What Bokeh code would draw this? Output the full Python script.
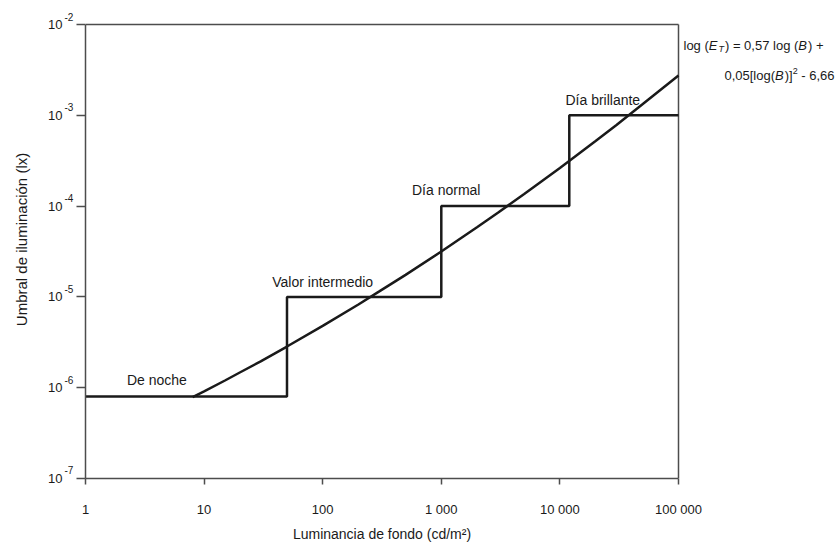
from bokeh.plotting import figure
from bokeh.models import FixedTicker, CustomJSTickFormatter, Label
from bokeh.embed import file_html
from bokeh.resources import INLINE
from bokeh.core.properties import value

# ---- data ----
curve_x = [8, 10, 15, 20, 30, 50, 100, 200, 300, 500, 1000, 2000, 3000, 5000,
           10000, 20000, 30000, 50000, 100000]
curve_y = [7.86e-7, 9.12e-7, 1.20e-6, 1.47e-6, 1.95e-6, 2.84e-6, 4.79e-6, 8.25e-6,
           1.15e-5, 1.75e-5, 3.16e-5, 5.84e-5, 8.44e-5, 1.36e-4, 2.63e-4, 5.21e-4,
           7.83e-4, 1.33e-3, 2.75e-3]

step_edges = [1, 50, 1000, 12000, 100000]
step_levels = [8e-7, 1e-5, 1e-4, 1e-3, 1e-3]

x_ticks = [1, 10, 100, 1000, 10000, 100000]
y_ticks = [1e-7, 1e-6, 1e-5, 1e-4, 1e-3, 1e-2]
y_exponents = [-7, -6, -5, -4, -3, -2]

region_names = ["De noche", "Valor intermedio", "Día normal", "Día brillante"]
region_x = [4.0, 100, 1100, 23000]
region_y = [1.22e-6, 1.46e-5, 1.5e-4, 1.46e-3]

x_title = "Luminancia de fondo (cd/m²)"
y_title = "Umbral de iluminación (lx)"

FONT = "Liberation Sans"
TXT = "#1a1a1a"
AX = "#4d4d4d"

W, H = 837, 542
LEFT, RIGHT, TOP, BOTTOM = 85, 678, 24, 478
px_per_dec_x = (RIGHT - LEFT) / 5.0
px_per_dec_y = (BOTTOM - TOP) / 5.0

# the frame reaches the right and top edges so the formula text is not clipped;
# the axes are bounded to the data box and the box is closed with two lines
p = figure(width=W, height=H, x_axis_type="log", y_axis_type="log",
           x_range=(x_ticks[0], 10 ** (5 + (W - RIGHT) / px_per_dec_x)),
           y_range=(y_ticks[0], 10 ** (-2 + TOP / px_per_dec_y)),
           output_backend="svg", toolbar_location=None,
           min_border_left=LEFT, min_border_right=0,
           min_border_top=0, min_border_bottom=H - BOTTOM)
p.grid.visible = False
p.background_fill_color = "white"
p.border_fill_color = "white"
p.outline_line_color = None

# x axis
xa = p.xaxis[0]
xa.bounds = (x_ticks[0], x_ticks[-1])
xa.ticker = FixedTicker(ticks=x_ticks, minor_ticks=[])
xa.formatter = CustomJSTickFormatter(
    code=r"return Math.round(tick).toString().replace(/\B(?=(\d{3})+(?!\d))/g, ' ');")
xa.major_tick_in = 0
xa.major_tick_out = 6
xa.minor_tick_out = 0
xa.minor_tick_in = 0
xa.axis_line_color = AX
xa.axis_line_width = 1.5
xa.major_tick_line_color = AX
xa.major_tick_line_width = 1.5
xa.major_label_text_font = FONT
xa.major_label_text_font_size = "13px"
xa.major_label_text_color = TXT
xa.major_label_standoff = 17

# y axis ("10" from the axis, exponents added beside it)
ya = p.yaxis[0]
ya.bounds = (y_ticks[0], y_ticks[-1])
ya.ticker = FixedTicker(ticks=y_ticks, minor_ticks=[])
ya.formatter = CustomJSTickFormatter(code="return '10';")
ya.major_tick_in = 0
ya.major_tick_out = 9
ya.minor_tick_out = 0
ya.minor_tick_in = 0
ya.axis_line_color = AX
ya.axis_line_width = 1.5
ya.major_tick_line_color = AX
ya.major_tick_line_width = 1.5
ya.major_label_text_font = FONT
ya.major_label_text_font_size = "13px"
ya.major_label_text_color = TXT
ya.major_label_standoff = 14
ya.axis_label = y_title
ya.axis_label_text_font = FONT
ya.axis_label_text_font_size = "15px"
ya.axis_label_text_font_style = "normal"
ya.axis_label_text_color = TXT
ya.axis_label_standoff = 15

# exponents: one multi-line label in the left panel, one line per decade
exp_text = "\n".join(str(e) for e in sorted(y_exponents, reverse=True))
p.add_layout(Label(x=x_ticks[0], y=y_ticks[-1], x_units="data", y_units="data",
                   x_offset=-21, y_offset=13, text=exp_text,
                   text_font=FONT, text_font_size="10px", text_color=TXT,
                   text_line_height=8.25,
                   text_align="left", text_baseline="top"), "left")

# close the data box (top and right sides)
p.segment(x0=[x_ticks[0], x_ticks[-1]], y0=[y_ticks[-1], y_ticks[0]],
          x1=[x_ticks[-1], x_ticks[-1]], y1=[y_ticks[-1], y_ticks[-1]],
          line_color=AX, line_width=1.5)

# x axis title (in the lower panel)
p.add_layout(Label(x=10 ** 2.5, y=y_ticks[0], x_units="data", y_units="data",
                   x_offset=0, y_offset=-55, text=x_title,
                   text_font=FONT, text_font_size="14px", text_color=TXT,
                   text_align="center", text_baseline="middle"), "below")

# data lines
p.step(step_edges, step_levels, mode="after", line_color=TXT, line_width=2.5)
p.line(curve_x, curve_y, line_color=TXT, line_width=2.5)

# region labels
p.text(x=region_x, y=region_y, text=region_names, text_align="center",
       text_baseline="middle", text_font=value(FONT), text_font_size="14px",
       text_color=TXT)

# formula annotation (pieces laid out with Arial/Liberation advance widths)
NB = "\u00a0"
adv = {'l': 222, 'o': 556, 'g': 556, ' ': 278, NB: 278, '(': 333, ')': 333, 'E': 667,
       'T': 611, '=': 584, '0': 556, ',': 278, '5': 556, '7': 556, 'B': 667,
       '+': 584, '[': 278, ']': 278, '-': 333, '6': 556, '2': 556}


def width(s, size):
    return sum(adv.get(c, 556) for c in s) * size / 1000.0


line1 = [("log (", 13, "normal", 0), ("E", 13, "italic", 0), ("T", 9, "italic", -3),
         (") = 0,57 log (", 13, "normal", 0), ("B", 13, "italic", 0), (") +", 13, "normal", 0)]
line2 = [("0,05[log(", 13, "normal", 0), ("B", 13, "italic", 0), (")]", 13, "normal", 0),
         ("2", 9, "normal", 5), (NB + "- 6,66", 13, "normal", 0)]


def place(pieces, start_dx, base_dy):
    dx = start_dx
    for s, size, style, rise in pieces:
        p.add_layout(Label(x=x_ticks[-1], y=y_ticks[-1], x_units="data", y_units="data",
                           x_offset=dx, y_offset=base_dy + rise, text=s,
                           text_font=FONT, text_font_size=f"{size}px",
                           text_font_style=style, text_color=TXT,
                           text_align="left", text_baseline="alphabetic"))
        dx += width(s, size) + (1 if style == "italic" else 0)


place(line1, 5, -21)
w2 = sum(width(s, size) for s, size, _, _ in line2)
place(line2, 155 - w2, -51)

open("out.html", "w").write(file_html(p, INLINE))
